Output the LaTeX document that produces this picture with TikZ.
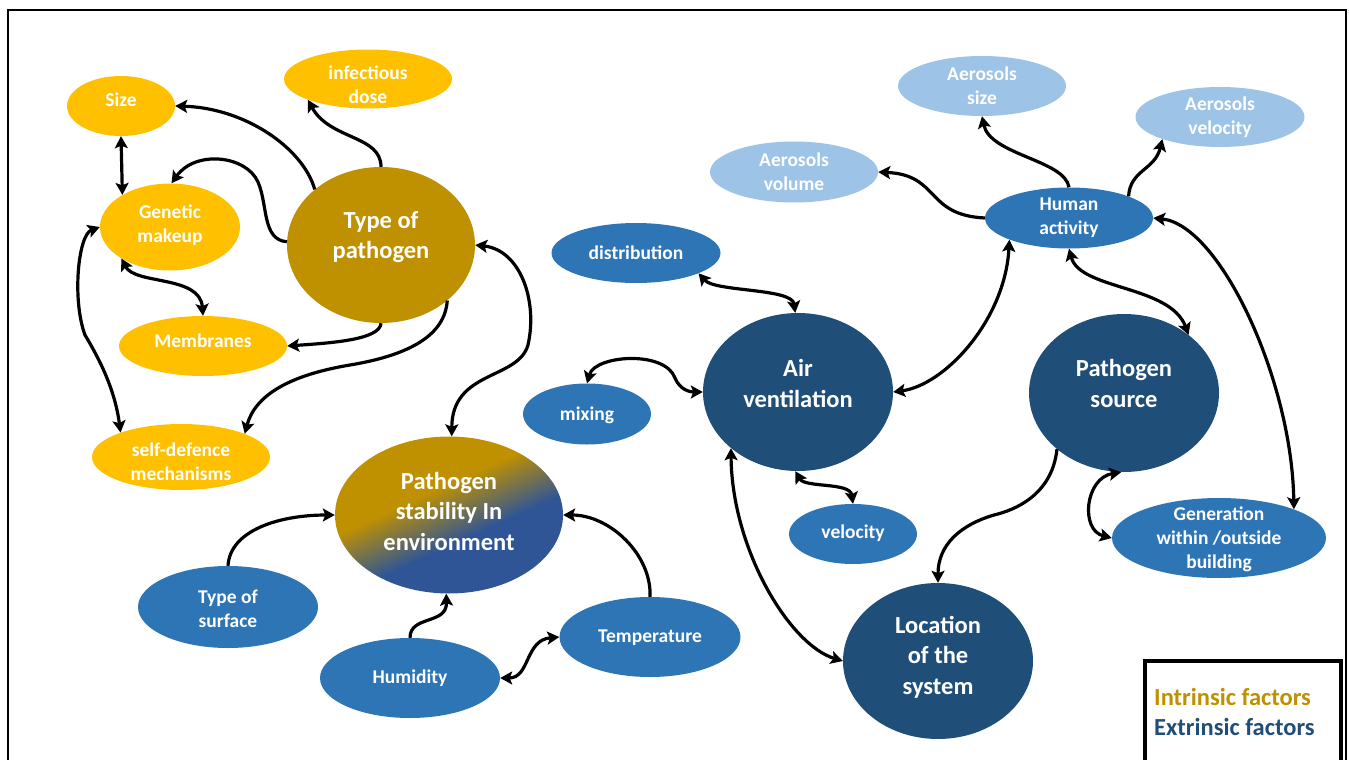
\documentclass[tikz,border=0pt]{standalone}
\usepackage{fontspec}
\setmainfont{Carlito}
\usetikzlibrary{shapes.geometric,arrows.meta}
\definecolor{cY}{HTML}{FFC000}
\definecolor{cG}{HTML}{BF9000}
\definecolor{cD}{HTML}{1F4E79}
\definecolor{cM}{HTML}{2E75B6}
\definecolor{cL}{HTML}{9DC3E6}
\definecolor{cP}{HTML}{2F5597}
\pgfdeclarehorizontalshading{psgrad}{100bp}{color(0bp)=(cG); color(42bp)=(cG); color(58bp)=(cP); color(100bp)=(cP)}
\newcommand\SmallTxt{\fontsize{19.5}{24}\selectfont\bfseries}
\newcommand\BigTxt{\fontsize{24.5}{30.5}\selectfont\bfseries}
\tikzset{
  el/.style={ellipse, inner sep=0pt, draw=none},
  stxt/.style={text=white, font=\SmallTxt, align=center, inner sep=0pt},
  btxt/.style={text=white, font=\BigTxt, align=center, inner sep=0pt},
  conn/.style={line width=3.2pt, black, -{Stealth[length=12pt,width=13pt,inset=2.5pt]}},
  conntwo/.style={line width=3.2pt, black, {Stealth[length=12pt,width=13pt,inset=2.5pt]}-{Stealth[length=12pt,width=13pt,inset=2.5pt]}}
}
\begin{document}
\begin{tikzpicture}[x=1pt,y=-1pt]
\useasboundingbox (0,0) rectangle (1349,760);
% frame
\draw[line width=2.2pt] (8,760) -- (8,10) -- (1346,10) -- (1346,760);
% shapes
\node[el, fill=cY, minimum width=108pt, minimum height=60pt] (size) at (121,106) {};
\node[el, fill=cY, minimum width=168pt, minimum height=59pt] (dose) at (368,79) {};
\node[el, fill=cY, minimum width=140pt, minimum height=87pt] (gen) at (170,227) {};
\node[el, fill=cG, minimum width=188pt, minimum height=156pt] (tp) at (381,245) {};
\node[el, fill=cY, minimum width=168pt, minimum height=60pt] (memb) at (203,346) {};
\node[el, fill=cY, minimum width=178pt, minimum height=66pt] (self) at (181,457) {};
\node[el, shading=psgrad, shading angle=-65.5, minimum width=228pt, minimum height=157pt] (ps) at (449,515) {};
\node[el, fill=cM, minimum width=180pt, minimum height=82pt] (tos) at (228,607) {};
\node[el, fill=cM, minimum width=180pt, minimum height=80pt] (hum) at (410,678) {};
\node[el, fill=cM, minimum width=181pt, minimum height=80pt] (temp) at (650,637) {};
\node[el, fill=cM, minimum width=169pt, minimum height=60pt] (dist) at (636,253) {};
\node[el, fill=cM, minimum width=128pt, minimum height=61pt] (mix) at (587,414) {};
\node[el, fill=cD, minimum width=190pt, minimum height=158pt] (av) at (798,392) {};
\node[el, fill=cM, minimum width=128pt, minimum height=60pt] (vel) at (853,534) {};
\node[el, fill=cD, minimum width=190pt, minimum height=156pt] (loc) at (938,661) {};
\node[el, fill=cD, minimum width=190pt, minimum height=158pt] (psrc) at (1124,393) {};
\node[el, fill=cM, minimum width=214pt, minimum height=80pt] (genb) at (1219,538) {};
\node[el, fill=cM, minimum width=168pt, minimum height=61pt] (ha) at (1069,218) {};
\node[el, fill=cL, minimum width=168pt, minimum height=61pt] (avol) at (794,172) {};
\node[el, fill=cL, minimum width=168pt, minimum height=60pt] (asize) at (982,86) {};
\node[el, fill=cL, minimum width=169pt, minimum height=60pt] (avel) at (1220,117) {};
% texts
\node[stxt] (sizet) at (121,100) {Size};
\node[stxt] (doset) at (368,85) {infectious\\dose};
\node[stxt] (gent) at (170,225) {Genetic\\makeup};
\node[btxt] (tpt) at (381,237) {Type of\\pathogen};
\node[stxt] (membt) at (203,341) {Membranes};
\node[stxt] (selft) at (181,461.5) {self-defence\\mechanisms};
\node[btxt] (pst) at (449,511) {Pathogen\\stability In\\environment};
\node[stxt] (tost) at (228,609) {Type of\\surface};
\node[stxt] (humt) at (410,678) {Humidity};
\node[stxt] (tempt) at (650,638) {Temperature};
\node[stxt] (distt) at (636,253) {distribution};
\node[stxt] (mixt) at (587,415) {mixing};
\node[btxt] (avt) at (798,383.5) {Air\\ventilation};
\node[stxt] (velt) at (853,533) {velocity};
\node[btxt] (loct) at (938,657) {Location\\of the\\system};
\node[btxt] (psrct) at (1124,383.5) {Pathogen\\source};
\node[stxt] (genbt) at (1219,539) {Generation\\within /outside\\building};
\node[stxt] (hat) at (1069,218) {Human\\activity};
\node[stxt] (avolt) at (794,172) {Aerosols\\volume};
\node[stxt] (asizet) at (982,86) {Aerosols\\size};
\node[stxt] (avelt) at (1220,117.5) {Aerosols\\velocity};
% connectors
\draw[conn] (tp.140) .. controls (303,148) and (245,108) .. (size.0);
\draw[conn] (tp.178) .. controls (262,240) and (268,205) .. (258,182) .. controls (246,155) and (195,150) .. (gen.88);
\draw[conn] (tp.90) .. controls (381,135) and (330,140) .. (dose.199);
\draw[conntwo] (size.270) -- (gen.146);
\draw[conntwo] (gen.213) .. controls (135,285) and (200,275) .. (memb.90);
\draw[conntwo] (gen.180) .. controls (78,235) and (72,300) .. (85,335) .. controls (100,360) and (115,390) .. (self.158);
\draw[conn] (tp.270) .. controls (380,340) and (330,343) .. (memb.0);
\draw[conn] (tp.-40) .. controls (445,335) and (410,355) .. (350,365) .. controls (290,375) and (255,395) .. (self.20);
\draw[conntwo] (tp.0) .. controls (520,250) and (538,300) .. (528,345) .. controls (518,380) and (452,370) .. (ps.88);
\draw[conn] (tos.90) .. controls (230,530) and (280,515) .. (ps.180);
\draw[conn] (hum.90) .. controls (410,615) and (447,625) .. (ps.268);
\draw[conntwo] (hum.0) .. controls (530,678) and (525,640) .. (temp.180);
\draw[conn] (temp.90) .. controls (652,555) and (610,515) .. (ps.0);
\draw[conntwo] (dist.-18) .. controls (715,292) and (792,288) .. (av.92);
\draw[conntwo] (mix.90) .. controls (595,355) and (665,350) .. (675,378) .. controls (680,390) and (690,392) .. (av.180);
\draw[conntwo] (av.268) .. controls (805,488) and (850,482) .. (vel.90);
\draw[conntwo] (av.220) .. controls (732,550) and (790,645) .. (loc.180);
\draw[conntwo] (av.0) .. controls (945,385) and (1005,320) .. (ha.200);
\draw[conntwo] (ha.270) .. controls (1080,290) and (1170,285) .. (psrc.42);
\draw[conntwo] (ha.0) .. controls (1220,225) and (1292,380) .. (genb.21);
\draw[conn] (ha.180) .. controls (925,215) and (940,175) .. (avol.0);
\draw[conn] (ha.90) .. controls (1065,160) and (990,155) .. (asize.270);
\draw[conn] (ha.20) .. controls (1130,170) and (1155,170) .. (avel.201);
\draw[conn] (psrc.220) .. controls (1052,495) and (1015,510) .. (994,515) .. controls (960,525) and (938,545) .. (loc.90);
\draw[conntwo] (psrc.268) .. controls (1085,478) and (1080,530) .. (genb.180);
% legend
\draw[line width=4pt] (1145,760) -- (1145,661) -- (1341,661) -- (1341,760);
\node[anchor=west, text=cG, font=\BigTxt, inner sep=0pt] (lin) at (1154,697) {Intrinsic factors};
\node[anchor=west, text=cD, font=\BigTxt, inner sep=0pt] (lex) at (1154,727) {Extrinsic factors};
\end{tikzpicture}
\end{document}
